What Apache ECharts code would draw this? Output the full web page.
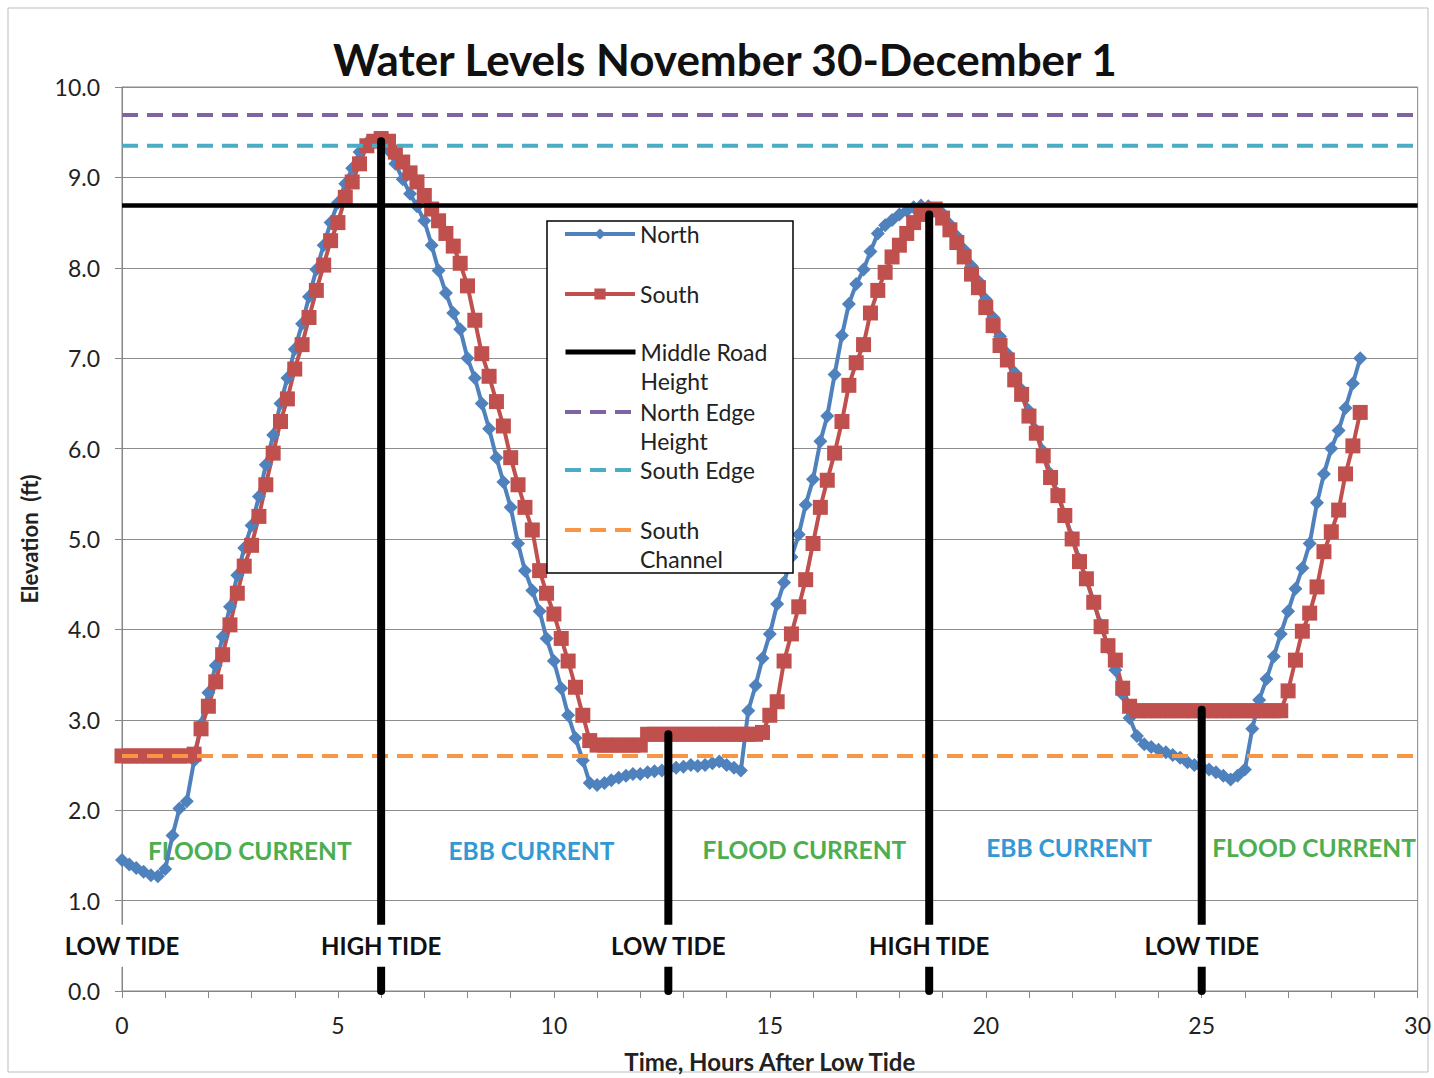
<!DOCTYPE html>
<html><head><meta charset="utf-8">
<script src="https://cdn.jsdelivr.net/npm/echarts@6/dist/echarts.min.js"></script>
<style>html,body{margin:0;padding:0;background:#fff}#c{width:1434px;height:1078px}</style>
</head><body><div id="c"></div>
<script>
// Time, hours after low tide (10-minute readings)
const hours = [
0,0.17,0.33,0.5,0.67,0.83, 1,1.17,1.33,1.5,1.67,1.83, 2,2.17,2.33,2.5,2.67,2.83,
3,3.17,3.33,3.5,3.67,3.83, 4,4.17,4.33,4.5,4.67,4.83, 5,5.17,5.33,5.5,5.67,5.83,
6,6.17,6.33,6.5,6.67,6.83, 7,7.17,7.33,7.5,7.67,7.83, 8,8.17,8.33,8.5,8.67,8.83,
9,9.17,9.33,9.5,9.67,9.83, 10,10.17,10.33,10.5,10.67,10.83, 11,11.17,11.33,11.5,11.67,11.83,
12,12.17,12.33,12.5,12.67,12.83, 13,13.17,13.33,13.5,13.67,13.83, 14,14.17,14.33,14.5,14.67,14.83,
15,15.17,15.33,15.5,15.67,15.83, 16,16.17,16.33,16.5,16.67,16.83, 17,17.17,17.33,17.5,17.67,17.83,
18,18.17,18.33,18.5,18.67,18.83, 19,19.17,19.33,19.5,19.67,19.83, 20,20.17,20.33,20.5,20.67,20.83,
21,21.17,21.33,21.5,21.67,21.83, 22,22.17,22.33,22.5,22.67,22.83, 23,23.17,23.33,23.5,23.67,23.83,
24,24.17,24.33,24.5,24.67,24.83, 25,25.17,25.33,25.5,25.67,25.83, 26,26.17,26.33,26.5,26.67,26.83,
27,27.17,27.33,27.5,27.67,27.83, 28,28.17,28.33,28.5,28.67
];
const north = [
1.45,1.4,1.36,1.32,1.28,1.27, 1.35,1.72,2.02,2.1,2.55,2.95, 3.3,3.6,3.92,4.25,4.6,4.9,
5.15,5.47,5.82,6.15,6.5,6.78, 7.1,7.38,7.68,7.98,8.25,8.5, 8.72,8.93,9.1,9.28,9.38,9.4,
9.38,9.3,9.15,8.98,8.82,8.68, 8.52,8.25,7.97,7.72,7.5,7.32, 7.0,6.78,6.5,6.22,5.9,5.63,
5.35,4.95,4.65,4.43,4.2,3.9, 3.65,3.35,3.05,2.8,2.55,2.3, 2.28,2.3,2.33,2.36,2.38,2.4,
2.4,2.42,2.43,2.44,2.46,2.47, 2.48,2.5,2.49,2.5,2.52,2.54, 2.5,2.47,2.44,3.1,3.38,3.68,
3.95,4.28,4.52,4.8,5.05,5.38, 5.66,6.08,6.36,6.82,7.25,7.6, 7.82,7.98,8.18,8.38,8.47,8.53,
8.59,8.63,8.67,8.69,8.68,8.64, 8.6,8.48,8.35,8.2,8.02,7.85, 7.65,7.45,7.24,7.05,6.84,6.65,
6.42,6.2,5.97,5.72,5.5,5.27, 5.02,4.77,4.55,4.3,4.05,3.8, 3.55,3.28,3.02,2.82,2.73,2.7,
2.67,2.64,2.61,2.58,2.53,2.5, 2.48,2.45,2.42,2.38,2.34,2.38, 2.45,2.9,3.22,3.45,3.7,3.95,
4.2,4.45,4.68,4.95,5.4,5.72, 6.0,6.2,6.45,6.72,7.0
];
const south = [
2.6,2.6,2.6,2.6,2.6,2.6, 2.6,2.6,2.6,2.6,2.62,2.9, 3.15,3.42,3.72,4.05,4.4,4.7,
4.93,5.25,5.6,5.95,6.3,6.55, 6.88,7.15,7.45,7.75,8.03,8.3, 8.5,8.78,8.95,9.15,9.35,9.4,
9.43,9.4,9.28,9.17,9.05,8.95, 8.8,8.65,8.52,8.38,8.24,8.05, 7.8,7.42,7.05,6.8,6.52,6.25,
5.9,5.6,5.35,5.1,4.65,4.4, 4.17,3.9,3.65,3.36,3.05,2.77, 2.72,2.72,2.72,2.72,2.72,2.72,
2.72,2.84,2.84,2.84,2.84,2.84, 2.84,2.84,2.84,2.84,2.84,2.84, 2.84,2.84,2.84,2.84,2.84,2.86,
3.05,3.2,3.65,3.95,4.25,4.55, 4.95,5.35,5.65,5.95,6.3,6.7, 6.95,7.15,7.5,7.75,7.95,8.12,
8.25,8.38,8.5,8.59,8.64,8.65, 8.55,8.42,8.28,8.12,7.93,7.78, 7.56,7.36,7.14,6.98,6.76,6.6,
6.36,6.17,5.92,5.68,5.48,5.26, 5.0,4.75,4.56,4.3,4.03,3.82, 3.66,3.35,3.15,3.1,3.1,3.1,
3.1,3.1,3.1,3.1,3.1,3.1, 3.1,3.1,3.1,3.1,3.1,3.1, 3.1,3.1,3.1,3.1,3.1,3.1,
3.32,3.66,3.98,4.18,4.47,4.86, 5.08,5.32,5.72,6.03,6.4
];
// Reference levels (ft)
const middleRoadHeight = 8.69;
const northEdgeHeight = 9.69;
const southEdgeHeight = 9.35;
const southChannel = 2.6;
const xSpan = [0, 30];
// Tide markers
const tideHours = [6.0, 12.65, 18.69, 25.0];
const tideTops = [9.4, 2.84, 8.59, 3.11];
const tideLabelHours = [0, 6.0, 12.65, 18.69, 25.0];
const tideLabels = ['LOW TIDE', 'HIGH TIDE', 'LOW TIDE', 'HIGH TIDE', 'LOW TIDE'];
const tideLabelLevel = 0.5;
// Current annotations
const currentLabels = ['FLOOD CURRENT', 'EBB CURRENT', 'FLOOD CURRENT', 'EBB CURRENT', 'FLOOD CURRENT'];
const currentHours = [2.96, 9.48, 15.8, 21.93, 27.6];
const currentLevels = [1.55, 1.55, 1.57, 1.59, 1.59];

const FONT = 'Lato, "Open Sans", sans-serif';
const chart = echarts.init(document.getElementById('c'), null, {renderer: 'svg'});

const seriesNames = ['North', 'South', 'Middle Road Height', 'North Edge Height', 'South Edge', 'South Channel'];
const legendCenters = [234, 294, 352, 412, 470, 530];
const twoLine = {'Middle Road Height': '\nMiddle Road\nHeight', 'North Edge Height': '\nNorth Edge\nHeight', 'South Channel': '\nSouth\nChannel'};
const legendLineWidth = {'North': 4, 'South': 4, 'Middle Road Height': 5, 'North Edge Height': 4, 'South Edge': 4, 'South Channel': 4};
const LEG_LH = 29;

const legends = seriesNames.map((n, i) => {
  const multi = !!twoLine[n];
  const hasSymbol = (n === 'North' || n === 'South');
  return {
    data: [n], left: 563, top: legendCenters[i] - (multi ? LEG_LH * 1.5 : LEG_LH / 2), padding: 0, z: 10,
    itemWidth: 70, itemHeight: 14, selectedMode: false,
    formatter: name => twoLine[name] || name,
    lineStyle: {width: legendLineWidth[n]},
    itemStyle: hasSymbol ? {} : {opacity: 0},
    textStyle: {fontFamily: FONT, fontSize: 23, color: '#222', lineHeight: LEG_LH}
  };
});

function hLine(name, level, color, width, dashed) {
  return {
    name, type: 'line', data: [[xSpan[0], level], [xSpan[1], level]],
    symbol: 'none', silent: true, z: 3,
    lineStyle: {color, width, type: dashed ? [16, 9] : 'solid'},
    itemStyle: {color}
  };
}

const tideSeries = tideHours.map((h, i) => ({
  name: 'tide' + i, type: 'line', z: 4, silent: true, symbol: 'none',
  data: [[h, 0], [h, tideTops[i]]],
  lineStyle: {color: '#000', width: 8, cap: 'round'}
}));

const option = {
  animation: false,
  backgroundColor: '#fff',
  title: {
    text: 'Water Levels November 30-December 1', left: 333, top: 37, padding: 0,
    textStyle: {fontFamily: FONT, fontSize: 44, fontWeight: 'bold', color: '#111'}
  },
  legend: legends,
  grid: {left: 122, right: 15, top: 87, bottom: 84, show: true, borderColor: '#868686', borderWidth: 1},
  xAxis: {
    type: 'value', min: 0, max: 30, interval: 1,
    name: 'Time, Hours After Low Tide', nameLocation: 'middle', nameGap: 58,
    nameTextStyle: {fontFamily: FONT, fontSize: 24, fontWeight: 'bold', color: '#222'},
    axisLine: {show: true, lineStyle: {color: '#868686', width: 1}},
    axisTick: {show: true, length: 7, lineStyle: {color: '#868686'}},
    axisLabel: {fontFamily: FONT, fontSize: 23, color: '#222', margin: 22,
      formatter: v => (v % 5 === 0 ? String(v) : '')},
    splitLine: {show: false}
  },
  yAxis: {
    type: 'value', min: 0, max: 10, interval: 1,
    name: 'Elevation  (ft)', nameLocation: 'middle', nameGap: 82, nameRotate: 90,
    nameTextStyle: {fontFamily: FONT, fontSize: 22, fontWeight: 'bold', color: '#222'},
    axisLine: {show: true, lineStyle: {color: '#868686', width: 1}},
    axisTick: {show: true, length: 7, lineStyle: {color: '#868686'}},
    axisLabel: {fontFamily: FONT, fontSize: 23, color: '#222', margin: 22, formatter: v => v.toFixed(1)},
    splitLine: {show: true, lineStyle: {color: '#8c8c8c', width: 1}}
  },
  graphic: {elements: [
    {type: 'rect', shape: {x: 8, y: 8, width: 1420, height: 1064}, style: {fill: 'none', stroke: '#bdbdbd', lineWidth: 1}, z: 0, silent: true},
    {type: 'rect', shape: {x: 547, y: 221, width: 246, height: 352}, style: {fill: '#fff', stroke: '#000', lineWidth: 1.5}, z: 8, silent: true}
  ]},
  series: [
    {
      name: 'currents', type: 'custom', z: 1, silent: true, clip: false,
      data: currentHours.map((h, i) => [h, currentLevels[i]]),
      renderItem: (params, api) => {
        const p = api.coord([api.value(0), api.value(1)]);
        const txt = currentLabels[params.dataIndex];
        return {
          type: 'text', x: p[0], y: p[1], style: {
            text: txt, fill: txt.indexOf('FLOOD') === 0 ? '#4DAE50' : '#3399D4',
            align: 'center', verticalAlign: 'middle', fontFamily: FONT, fontSize: 24.5, fontWeight: 'bold'}
        };
      }
    },
    {
      name: 'North', type: 'line', z: 2, data: hours.map((h, i) => [h, north[i]]),
      symbol: 'diamond', symbolSize: 14, showSymbol: true,
      itemStyle: {color: '#4F81BD'}, lineStyle: {color: '#4F81BD', width: 4}
    },
    {
      name: 'South', type: 'line', z: 2, data: hours.map((h, i) => [h, south[i]]),
      symbol: 'rect', symbolSize: 15, showSymbol: true,
      itemStyle: {color: '#C0504D'}, lineStyle: {color: '#C0504D', width: 4}
    },
    hLine('Middle Road Height', middleRoadHeight, '#000', 4.5, false),
    hLine('North Edge Height', northEdgeHeight, '#8064A2', 4, true),
    hLine('South Edge', southEdgeHeight, '#4BACC6', 4, true),
    hLine('South Channel', southChannel, '#F79646', 4, true),
    ...tideSeries,
    {
      name: 'tideLabels', type: 'custom', z: 7, silent: true, clip: false,
      data: tideLabelHours.map(h => [h, tideLabelLevel]),
      renderItem: (params, api) => {
        const p = api.coord([api.value(0), api.value(1)]);
        return {
          type: 'group',
          children: [
            {type: 'rect', shape: {x: p[0] - 18, y: p[1] - 21, width: 36, height: 42}, style: {fill: '#ffffff'}},
            {type: 'text', x: p[0], y: p[1], style: {
              text: tideLabels[params.dataIndex], fill: '#111', align: 'center', verticalAlign: 'middle',
              fontFamily: FONT, fontSize: 24, fontWeight: 'bold'}}
          ]
        };
      }
    }
  ]
};
chart.setOption(option);
</script>
</body></html>
